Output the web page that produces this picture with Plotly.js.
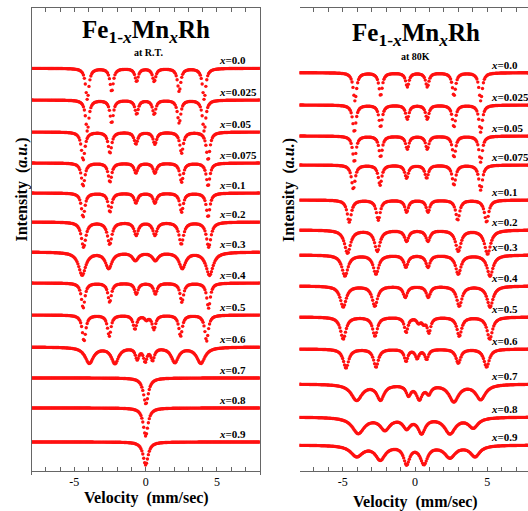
<!DOCTYPE html>
<html><head><meta charset="utf-8">
<script src="https://cdn.plot.ly/plotly-3.0.1.min.js"></script>
<style>html,body{margin:0;padding:0;overflow:hidden;background:#fff}#chart{width:532px;height:511px}</style>
</head><body><div id="chart"></div>
<script>
// ---- data ----
// composition labels (same for both panels)
const xLabels = ['0.0','0.025','0.05','0.075','0.1','0.2','0.3','0.4','0.5','0.6','0.7','0.8','0.9'];

// Room temperature panel: vertical stacking offsets (a.u.)
const rtOffset = [-6.83,-10.0,-13.2,-16.3,-19.3,-22.2,-25.2,-28.3,-31.5,-34.7,-37.8,-40.8,-44.2];
// absorption lines per spectrum: [velocity (mm/s), depth (a.u.), FWHM (mm/s)]
const rtLines = [
  [[-4.09,3.1,.28],[-2.38,2.3,.28],[-0.63,1.3,.28],[0.60,1.3,.28],[2.35,2.3,.28],[4.10,3.1,.28]],
  [[-4.09,3.1,.28],[-2.38,2.3,.28],[-0.63,1.4,.28],[0.60,1.4,.28],[2.35,2.3,.28],[4.10,3.1,.28]],
  [[-4.38,2.8,.30],[-2.50,2.1,.30],[-0.68,1.2,.30],[0.65,1.2,.30],[2.52,2.1,.30],[4.38,2.8,.30]],
  [[-4.38,2.3,.30],[-2.50,1.9,.30],[-0.68,1.0,.30],[0.65,1.0,.30],[2.52,1.9,.30],[4.38,2.3,.30]],
  [[-4.38,2.4,.30],[-2.50,1.9,.30],[-0.68,1.0,.30],[0.65,1.0,.30],[2.52,1.9,.30],[4.38,2.4,.30]],
  [[-4.35,2.5,.38],[-2.52,2.2,.38],[-0.66,1.3,.35],[0.65,1.3,.35],[2.50,2.2,.38],[4.42,2.5,.38]],
  [[-4.45,2.3,.60],[-2.59,1.6,.55],[-0.72,0.8,.50],[0.68,0.8,.50],[2.57,1.6,.55],[4.48,2.3,.60]],
  [[-4.38,2.5,.30],[-2.52,1.9,.30],[-0.65,1.1,.30],[0.68,1.1,.30],[2.54,1.9,.30],[4.41,2.5,.30]],
  [[-4.32,2.6,.30],[-2.55,2.1,.30],[-0.75,1.4,.30],[0.05,0.4,.30],[0.58,1.4,.30],[2.45,2.1,.30],[4.27,2.6,.30]],
  [[-3.95,1.6,.70],[-2.15,1.6,.60],[-0.59,1.1,.30],[-0.03,1.3,.30],[0.49,1.2,.30],[2.05,1.5,.60],[3.87,1.6,.70]],
  [[0.02,2.6,.42]],
  [[0.00,2.8,.40]],
  [[0.00,2.3,.42]]
];

// 80 K panel
const lt80Offset = [-7.27,-10.5,-13.6,-16.5,-20.0,-23.0,-25.5,-28.6,-31.7,-34.9,-38.4,-41.7,-44.5];
const lt80Lines = [
  [[-4.16,2.8,.28],[-2.38,2.3,.28],[-0.53,1.4,.28],[0.85,1.4,.28],[2.70,2.3,.28],[4.55,2.8,.28]],
  [[-4.20,2.7,.28],[-2.38,2.2,.28],[-0.53,1.4,.28],[0.85,1.4,.28],[2.70,2.2,.28],[4.55,2.7,.28]],
  [[-4.20,2.6,.28],[-2.38,2.1,.28],[-0.53,1.3,.28],[0.85,1.3,.28],[2.70,2.1,.28],[4.55,2.6,.28]],
  [[-4.27,2.4,.30],[-2.42,2.0,.30],[-0.58,1.3,.30],[0.81,1.3,.30],[2.70,2.0,.30],[4.55,2.5,.30]],
  [[-4.55,2.2,.35],[-2.54,2.0,.33],[-0.58,1.2,.30],[0.90,1.2,.30],[2.96,2.0,.33],[4.96,2.2,.35]],
  [[-4.67,2.3,.50],[-2.61,2.1,.45],[-0.58,1.1,.35],[0.90,1.1,.35],[3.00,2.1,.45],[5.03,2.4,.50]],
  [[-4.85,2.1,.50],[-2.70,1.9,.45],[-0.63,1.2,.35],[0.90,1.2,.35],[3.00,1.9,.45],[5.20,2.1,.50]],
  [[-4.97,2.1,.50],[-2.78,2.0,.45],[-0.67,1.1,.35],[0.92,1.1,.35],[3.07,2.0,.45],[5.20,2.1,.50]],
  [[-4.97,2.2,.45],[-2.77,1.9,.40],[-0.61,1.5,.30],[0.25,0.5,.30],[0.60,0.5,.30],[0.97,1.5,.30],[3.07,1.9,.40],[5.18,2.2,.45]],
  [[-4.78,1.9,.45],[-2.70,1.8,.40],[-0.62,1.2,.30],[0.15,0.9,.30],[0.81,1.0,.30],[3.00,1.4,.40],[4.96,1.8,.45]],
  [[-4.04,1.6,.90],[-2.39,1.5,.60],[-0.45,1.0,.40],[0.30,1.4,.50],[0.95,0.8,.40],[2.69,1.7,.80],[4.55,1.5,.80]],
  [[-3.93,1.6,1.0],[-2.08,1.2,.80],[-0.58,1.0,.60],[0.46,1.5,.60],[2.42,1.6,.90],[4.04,1.0,.80]],
  [[-4.04,1.1,1.0],[-2.40,1.4,.80],[-0.58,1.8,.50],[0.62,1.8,.60],[2.42,1.2,.90],[4.16,1.1,.80]]
];

// velocity channels (mm/s)
const velocity = [];
for (let v = -8; v <= 8.0001; v += 0.065) velocity.push(+v.toFixed(3));

// ---- build ----
function spectrum(offset, lines) {
  return velocity.map(v => {
    let a = 0;
    for (const [c, d, w] of lines) { const t = (v - c) / (w / 2); a += d / (1 + t * t); }
    return offset - a;
  });
}
const RED = '#ff1010';
const traces = [];
rtLines.forEach((ln, i) => traces.push({type:'scatter', mode:'markers', x:velocity, y:spectrum(rtOffset[i], ln),
  xaxis:'x', yaxis:'y', marker:{color:RED, size:3.4}, hoverinfo:'skip'}));
lt80Lines.forEach((ln, i) => traces.push({type:'scatter', mode:'markers', x:velocity, y:spectrum(lt80Offset[i], ln),
  xaxis:'x2', yaxis:'y2', marker:{color:RED, size:3.4}, hoverinfo:'skip'}));

const W = 532, H = 511;
const px = (x, y) => ({x: x / W, y: 1 - y / H});
const SERIF = 'Liberation Serif';
const FR = '#666';

function xax(dom) {
  return {domain: dom, range: [-8, 8], tickmode: 'array', tickvals: [-5, 0, 5], ticktext: ['-5', '0', '5'],
    ticks: 'inside', ticklen: 4, tickcolor: FR, showline: true, linecolor: FR, linewidth: 1, mirror: 'ticks',
    minor: {tickmode: 'linear', tick0: 0, dtick: 1, ticks: 'inside', ticklen: 4, tickcolor: FR},
    tickfont: {family: SERIF, size: 12, color: '#000'}, showgrid: false, zeroline: false, fixedrange: true};
}
function yax(dom, rng) {
  return {domain: dom, range: rng, showline: true, linecolor: FR, linewidth: 1, mirror: true, ticks: '',
    showticklabels: false, showgrid: false, zeroline: false, fixedrange: true};
}

const ann = [];
function A(p, text, size, extra) {
  ann.push(Object.assign({xref: 'paper', yref: 'paper', x: p.x, y: p.y, text: text, showarrow: false,
    xanchor: 'center', yanchor: 'middle', font: {family: SERIF, size: size, color: '#000'}}, extra || {}));
}
const title = '<b>Fe<sub>1-<i>x</i></sub>Mn<sub><i>x</i></sub>Rh</b>';
A(px(146, 31), title, 25);
A(px(148, 53), '<b>at R.T.</b>', 10);
A(px(416, 34), title, 25);
A(px(415.5, 57), '<b>at 80K</b>', 10);
A(px(146, 497.5), '<b>Velocity  (mm/sec)</b>', 16);
A(px(415.5, 502), '<b>Velocity  (mm/sec)</b>', 16);
A(px(21.5, 190), '<b>Intensity  (<i>a.u.</i>)</b>', 16, {textangle: -90});
A(px(289, 190), '<b>Intensity  (<i>a.u.</i>)</b>', 16, {textangle: -90});

xLabels.forEach((lab, i) => {
  ann.push({xref: 'x', yref: 'y', x: 5.0, y: rtOffset[i], yshift: 8, xanchor: 'left', yanchor: 'middle',
    text: '<b><i>x</i>=' + lab + '</b>', showarrow: false, font: {family: SERIF, size: 11, color: '#000'}});
  ann.push({xref: 'x2', yref: 'y2', x: 5.1, y: lt80Offset[i], yshift: 8, xanchor: 'left', yanchor: 'middle',
    text: '<b><i>x</i>=' + lab + '</b>', showarrow: false, font: {family: SERIF, size: 11, color: '#000'}});
});

const layout = {
  width: W, height: H, margin: {l: 0, r: 0, t: 0, b: 0}, showlegend: false,
  paper_bgcolor: '#fff', plot_bgcolor: '#fff',
  xaxis: xax([31.5 / W, 259.8 / W]),
  yaxis: yax([1 - 470.7 / H, 1 - 7.5 / H], [-47.07, -0.75]),
  xaxis2: xax([299.5 / W, 530.5 / W]),
  yaxis2: yax([1 - 475 / H, 1 - 10.7 / H], [-47.5, -1.07]),
  annotations: ann
};
Plotly.newPlot('chart', traces, layout, {staticPlot: true, displayModeBar: false});
</script></body></html>
